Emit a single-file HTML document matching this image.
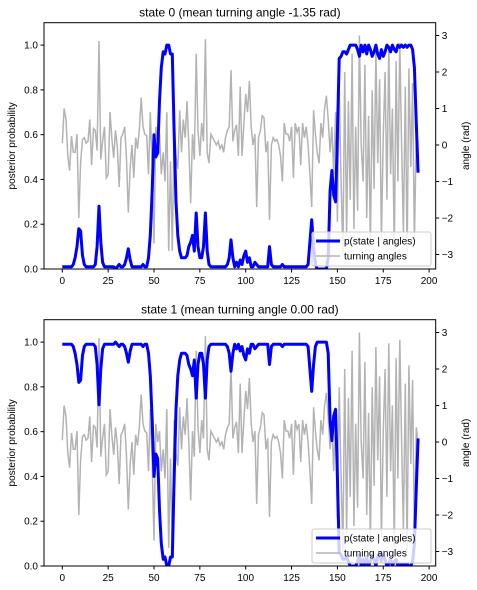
<!DOCTYPE html>
<html><head><meta charset="utf-8"><style>
body{margin:0;background:#fff;}
svg{display:block;font-family:"Liberation Sans","DejaVu Sans",sans-serif;}
</style></head><body>
<svg id="chart" width="477" height="590" viewBox="0 0 477 590" xmlns="http://www.w3.org/2000/svg"></svg>
<script>
const angles = [0.05,1.0,0.7,-0.3,-0.7,0.25,-0.2,-0.2,0.3,-2.0,-0.5,0.15,0.2,0.05,0.1,0.7,-0.55,0.45,0.4,-0.15,
2.85,-0.4,0.1,0.5,-0.9,-0.8,0.9,0.2,-0.35,0.4,-0.05,-1.15,0.2,0.3,0.5,-0.4,-1.85,-0.6,0.0,-0.9,
0.2,-0.1,0.4,1.3,0.5,0.3,0.25,-0.8,0.9,-0.6,-2.7,0.5,0.0,0.3,-0.8,-0.2,-1.0,0.9,-2.9,-0.45,
-2.9,0.6,-0.3,-0.65,0.95,-0.2,0.7,0.2,1.2,0.0,-1.6,0.3,-0.4,2.5,0.4,-0.3,0.6,0.1,2.9,-0.2,
-0.5,0.3,0.2,0.1,0.0,0.1,-0.1,0.0,-0.2,0.2,0.4,0.5,2.05,0.1,0.4,0.55,-0.3,1.6,-0.3,0.6,
1.4,0.9,1.75,0.5,0.0,0.3,-1.7,0.2,0.4,0.8,0.75,-0.2,0.1,-2.05,0.0,0.2,0.1,0.15,0.0,-0.3,
-1.0,0.6,0.3,0.3,0.1,0.5,-0.9,0.6,0.35,0.5,-0.55,0.6,0.2,0.5,0.0,-0.8,-1.7,0.95,0.3,-0.2,
-0.5,0.6,0.2,1.0,1.35,0.7,-0.2,0.5,-0.8,0.9,-2.1,1.5,-1.0,-3.0,2.0,-2.5,1.2,-1.5,2.5,-2.3,
0.5,-1.8,3.0,0.0,-1.0,2.2,-2.0,0.8,-2.8,1.5,-1.2,2.6,-0.5,1.8,-2.6,0.3,2.0,-1.5,2.7,-0.8,
1.0,-2.9,2.3,-1.0,2.8,0.0,-2.4,1.6,-3.0,2.1,-0.6,1.7,-2.7,0.4,0.0];
const pState0 = [0.01,0.01,0.01,0.01,0.01,0.01,0.02,0.05,0.1,0.18,0.17,0.06,0.02,0.01,0.01,0.01,0.01,0.01,0.02,0.1,
0.28,0.12,0.03,0.01,0.01,0.01,0.01,0.01,0.01,0.0,0.01,0.02,0.01,0.01,0.02,0.05,0.09,0.04,0.01,0.01,
0.01,0.01,0.01,0.01,0.02,0.01,0.01,0.05,0.15,0.35,0.6,0.5,0.52,0.75,0.9,0.97,0.96,1.0,1.0,0.96,
0.96,0.6,0.3,0.15,0.08,0.05,0.05,0.05,0.06,0.1,0.12,0.15,0.08,0.25,0.1,0.05,0.05,0.1,0.25,0.08,
0.02,0.01,0.01,0.01,0.01,0.01,0.01,0.01,0.01,0.01,0.02,0.05,0.13,0.05,0.01,0.03,0.01,0.04,0.02,0.06,
0.08,0.03,0.05,0.01,0.01,0.03,0.02,0.01,0.01,0.01,0.01,0.01,0.01,0.1,0.02,0.01,0.01,0.01,0.01,0.01,
0.02,0.01,0.01,0.01,0.01,0.01,0.01,0.01,0.01,0.01,0.01,0.01,0.01,0.01,0.02,0.12,0.22,0.1,0.02,0.0,
0.0,0.0,0.0,0.0,0.0,0.05,0.35,0.44,0.33,0.3,0.6,0.94,0.95,0.97,0.97,0.96,0.98,1.0,1.0,1.0,
1.0,0.98,0.95,1.0,0.97,1.0,0.96,1.0,0.98,0.95,0.97,1.0,0.96,0.94,0.98,0.95,0.97,1.0,0.99,0.97,
1.0,0.98,0.97,1.0,0.99,1.0,0.99,1.0,0.99,1.0,1.0,0.98,0.9,0.65,0.43];
const pState1 = pState0.map(v => 1 - v);
const xTicks = [0,25,50,75,100,125,150,175,200];
const yTicks = [0.0,0.2,0.4,0.6,0.8,1.0];
const angTicks = [-3,-2,-1,0,1,2,3];
const titles = ["state 0 (mean turning angle -1.35 rad)","state 1 (mean turning angle 0.00 rad)"];

const NS = "http://www.w3.org/2000/svg";
const svg = document.getElementById('chart');
function mk(tag, attrs, parent, text){
  const e = document.createElementNS(NS, tag);
  for (const k in attrs) e.setAttribute(k, attrs[k]);
  if (text !== undefined) e.textContent = text;
  (parent || svg).appendChild(e);
  return e;
}
const L = 44, R = 435.7;
const xs = v => 62.3 + 1.834 * v;

function panel(idx, top, probs){
  const bottom = top + 246.3;
  const yp = v => bottom - 224 * v / 1.1 * 1.1 * (246.3/ (1.1*224)) ;
  const ypr = v => bottom - (v / 1.1) * 246.3;
  const ya = v => (bottom - 124) - 36.5 * v;
  const g = mk('g', {});
  
  
  const clipId = 'clip' + idx;
  const cp = mk('clipPath', {id: clipId}, g);
  mk('rect', {x: L, y: top, width: R - L, height: bottom - top}, cp);
  // angle line
  let d = '';
  angles.forEach((a, i) => { d += (i ? 'L' : 'M') + xs(i).toFixed(1) + ',' + ya(a).toFixed(1); });
  const gl = mk('path', {d: d, fill: 'none', stroke: '#b3b3b3', 'stroke-width': 1.5, 'clip-path': 'url(#' + clipId + ')'}, g);
  
  
  d = '';
  probs.forEach((p, i) => { d += (i ? 'L' : 'M') + xs(i).toFixed(1) + ',' + ypr(p).toFixed(1); });
  const bl = mk('path', {d: d, fill: 'none', stroke: '#0000ff', 'stroke-width': 3, 'stroke-linejoin': 'round', 'clip-path': 'url(#' + clipId + ')'}, g);
  
  
  // frame
  const fr = mk('rect', {x: L, y: top, width: R - L, height: bottom - top, fill: 'none', stroke: '#000', 'stroke-width': 1}, g);
  
  
  // x ticks
  xTicks.forEach(t => {
    const x = xs(t);
    mk('line', {x1: x, x2: x, y1: bottom, y2: bottom + 3.5, stroke: '#000'}, g);
    const tl = mk('text', {x: x, y: bottom + 15, 'font-size': 10, 'text-anchor': 'middle'}, g, String(t));
    
    
  });
  yTicks.forEach(t => {
    const y = ypr(t);
    mk('line', {x1: L, x2: L - 3.5, y1: y, y2: y, stroke: '#000'}, g);
    const tl = mk('text', {x: L - 6, y: y + 3.5, 'font-size': 10, 'text-anchor': 'end'}, g, t.toFixed(1));
    
    
  });
  angTicks.forEach(t => {
    const y = ya(t);
    mk('line', {x1: R, x2: R + 3.5, y1: y, y2: y, stroke: '#000'}, g);
    const tl = mk('text', {x: R + 6, y: y + 3.5, 'font-size': 10}, g, t < 0 ? '\u2212' + (-t) : String(t));
    
    
  });
  const ti = mk('text', {x: (L + R) / 2, y: top - 6, 'font-size': 12, 'text-anchor': 'middle'}, g, titles[idx]);
  
  
  const cy = (top + bottom) / 2;
  const yl = mk('text', {x: 15, y: cy, 'font-size': 10, 'text-anchor': 'middle', transform: 'rotate(-90 15 ' + cy + ')'}, g, 'posterior probability');
  
  
  const al = mk('text', {x: 469, y: cy, 'font-size': 10, 'text-anchor': 'middle', transform: 'rotate(-90 469 ' + cy + ')'}, g, 'angle (rad)');
  
  
  // legend
  const lg = mk('g', {}, g);
  
  
  const ly = bottom - 37;
  mk('rect', {x: 312, y: ly, width: 119, height: 34, rx: 2, fill: '#fff', 'fill-opacity': 0.8, stroke: '#ccc', 'stroke-width': 1}, lg);
  mk('line', {x1: 316, x2: 340, y1: ly + 9, y2: ly + 9, stroke: '#0000ff', 'stroke-width': 3}, lg);
  const t1 = mk('text', {x: 344, y: ly + 12.5, 'font-size': 10}, lg, 'p(state | angles)');
  
  
  mk('line', {x1: 316, x2: 340, y1: ly + 24, y2: ly + 24, stroke: '#b3b3b3', 'stroke-width': 1.5}, lg);
  const t2 = mk('text', {x: 344, y: ly + 27.5, 'font-size': 10}, lg, 'turning angles');
  
  
}
panel(0, 22.7, pState0);
panel(1, 319.7, pState1);
</script>
</body></html>
